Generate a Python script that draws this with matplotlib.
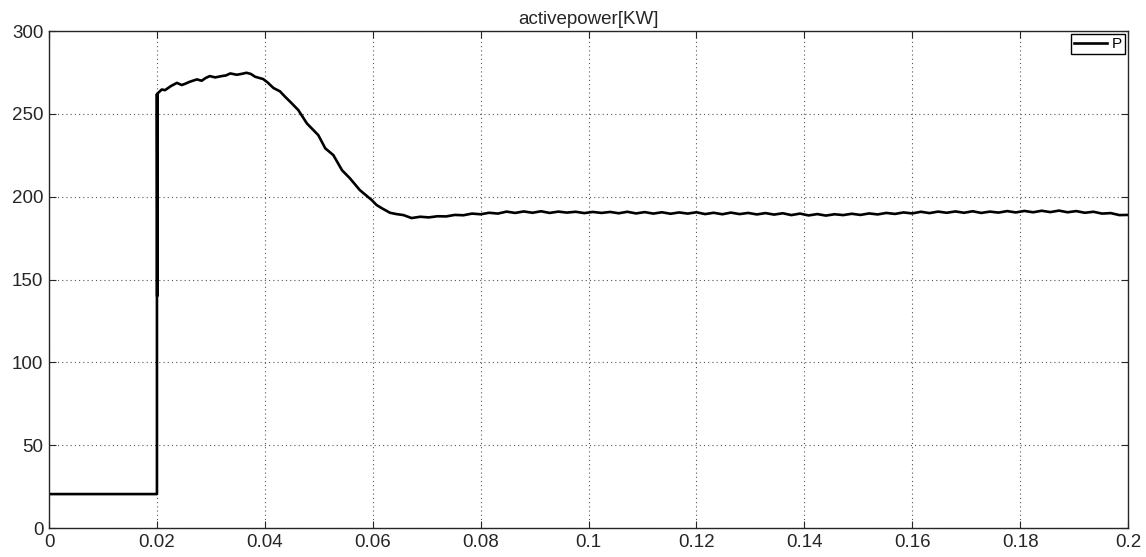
import numpy as np
import matplotlib
matplotlib.use("Agg")
import matplotlib.pyplot as plt

plt.rcParams['font.family'] = ['Liberation Sans', 'DejaVu Sans']

# transient part (time in s, power in kW)
t_start = [0.0, 0.0200, 0.0200, 0.02005, 0.0201, 0.0201, 0.0209, 0.0215, 0.0226, 0.0237,
           0.0246, 0.0254, 0.0261, 0.0274, 0.0283, 0.0290, 0.0298, 0.0308, 0.0320,
           0.0328, 0.0336, 0.0348, 0.0358, 0.0366, 0.0374, 0.0382, 0.0391, 0.0397,
           0.0405, 0.0416, 0.0428, 0.0437, 0.0447, 0.0462, 0.0478, 0.0499, 0.0512,
           0.0527, 0.0543, 0.0558, 0.0576, 0.0598, 0.0607, 0.0617, 0.0632, 0.0644,
           0.0657, 0.0672, 0.0688]
p_start = [20.5, 20.5, 262.0, 140.0, 262.0, 262.3, 264.7, 264.3, 266.8, 268.7,
           267.4, 268.4, 269.4, 270.8, 270.0, 271.6, 272.8, 272.0, 272.8,
           273.2, 274.4, 273.6, 274.2, 274.8, 274.1, 272.4, 271.6, 271.0,
           269.0, 265.6, 263.6, 260.5, 257.3, 252.3, 244.2, 237.2, 229.2,
           225.1, 216.0, 211.0, 204.0, 198.0, 195.0, 193.0, 190.3, 189.5,
           188.9, 187.1, 187.9]

# steady part
t_steady = np.linspace(0.0704, 0.2, 82)
p_steady = [187.5, 188.2, 188.1, 189.0, 188.8, 189.8, 189.4, 190.3, 189.8, 191.0,
            190.2, 191.1, 190.3, 191.2, 190.2, 191.0, 190.4, 190.9, 190.1, 190.8,
            190.2, 190.8, 190.0, 190.9, 189.9, 190.7, 189.8, 190.6, 189.7, 190.5,
            189.8, 190.6, 189.5, 190.3, 189.4, 190.4, 189.5, 190.2, 189.3, 190.1,
            189.2, 190.0, 188.9, 189.8, 188.7, 189.5, 188.6, 189.4, 188.9, 189.7,
            189.0, 189.9, 189.3, 190.2, 189.6, 190.5, 189.9, 190.9, 190.1, 191.0,
            190.3, 191.1, 190.3, 191.2, 190.2, 191.0, 190.4, 191.3, 190.5, 191.4,
            190.6, 191.5, 190.7, 191.6, 190.6, 191.3, 190.3, 190.9, 189.8, 190.1,
            188.9, 189.0]

t = np.concatenate([t_start, t_steady])
p = np.concatenate([p_start, p_steady])

fig = plt.figure(figsize=(11.46, 5.57), dpi=100)
ax = fig.add_axes([0.0428, 0.052, 0.9415, 0.8923])

ax.plot(t, p, color='black', lw=1.9, label='P')

ax.set_xlim(0, 0.2)
ax.set_ylim(0, 300)
ax.set_xticks(np.arange(0, 0.2001, 0.02))
ax.set_xticklabels(['0', '0.02', '0.04', '0.06', '0.08', '0.1', '0.12', '0.14', '0.16', '0.18', '0.2'])
ax.set_yticks(range(0, 301, 50))
ax.tick_params(direction='in', top=True, right=True, length=5, width=0.8,
               labelsize=13.5, colors='#262626', pad=4)
ax.grid(True, linestyle=(0, (1, 2.8)), color='#555555', lw=0.8)
for s in ax.spines.values():
    s.set_color('#262626')
    s.set_linewidth(1.0)

ax.set_title('activepower[KW]', fontsize=13.5, color='#262626', pad=5)

leg = ax.legend(loc='upper right', fontsize=11, handlelength=2.2, handletextpad=0.3,
                borderpad=0.2, borderaxespad=0.2, fancybox=False, framealpha=1)
leg.get_frame().set_edgecolor('black')
leg.get_frame().set_linewidth(1.0)

fig.savefig('out.png', dpi=100)
